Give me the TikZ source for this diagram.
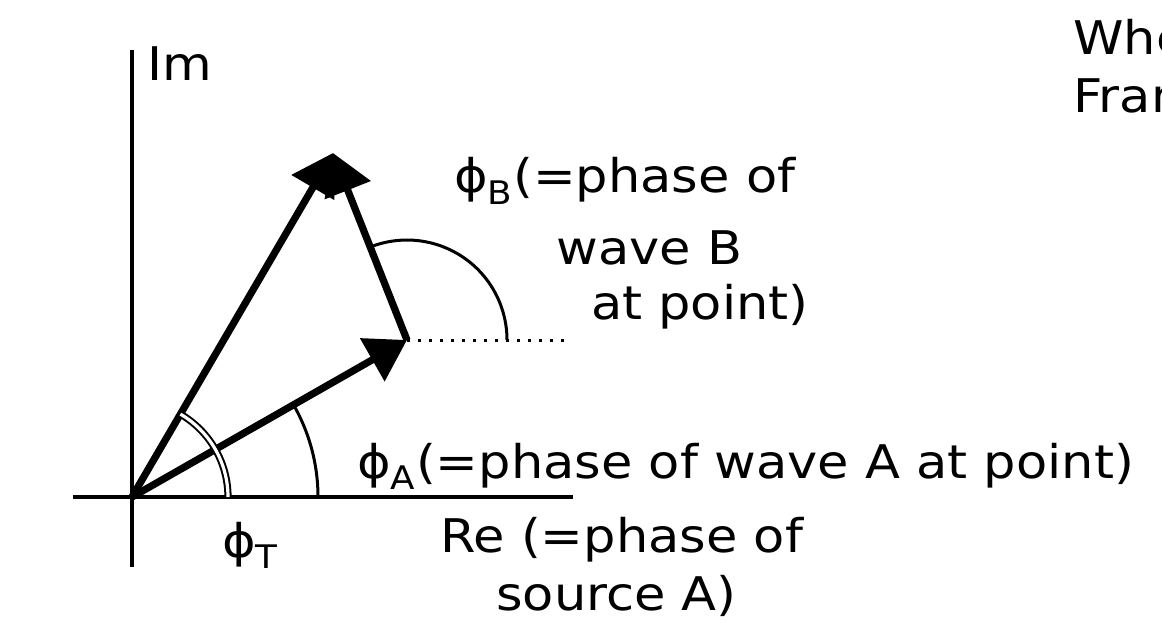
\documentclass[tikz,border=0pt]{standalone}
\usepackage{fontspec}
\setmainfont[FakeStretch=1.1]{DejaVu Sans}
\usetikzlibrary{arrows.meta, positioning, calc}

\begin{document}
\begin{tikzpicture}[
  axis/.style={line width=0.09cm},
  phasor/.style={line width=0.18cm, -{Triangle[length=1cm, width=1.2cm]}},
  anglearc/.style={line width=0.075cm},
  lbl/.style={font=\fontsize{33pt}{38.5pt}\selectfont, inner sep=0pt}
]
  \useasboundingbox (-3.3,-3.125) rectangle (25.75,12.425);

  % Axes
  \coordinate (O) at (0,0);
  \coordinate (reL) at (-1.475,0);
  \coordinate (reR) at (11.025,0);
  \coordinate (imT) at (0,11.175);
  \coordinate (imB) at (0,-1.75);
  \draw[axis] (reL) -- (reR);
  \draw[axis] (imB) -- (imT);
  \node[lbl, anchor=base west] (im) at (0.375,10.4) {Im};

  % Phasors
  \coordinate (A) at (6.875,3.925);
  \coordinate (R) at (5.025,8.6);
  \coordinate (dotEnd) at (10.825,3.925);
  \draw[phasor] (O) -- (A);
  \draw[phasor] (A) -- (R);
  \draw[phasor] (O) -- (R);

  % Angles
  \draw[anglearc] ($(O)+(4.65,0)$) arc[start angle=0, end angle=29.7, radius=4.65];
  \draw[line width=0.05cm, double, double distance=0.08cm] ($(O)+(2.4,0)$) arc[start angle=0, end angle=59.7, radius=2.4];
  \draw[anglearc] ($(A)+(2.5,0)$) arc[start angle=0, end angle=111.6, radius=2.5];
  \draw[line width=0.075cm, dash pattern=on 0.075cm off 0.2cm] (A) -- (dotEnd);

  % Labels
  \node[lbl, anchor=base west] (phiA) at (5.625,0.475) {ϕ\textsubscript{A}(=phase of wave A at point)};
  \node[lbl, anchor=base west] (phiT) at (2.25,-1.5) {ϕ\textsubscript{T}};
  \node[lbl, align=left, anchor=north west] (phiB) at (8.05,8.5) {ϕ\textsubscript{B}(=phase of\\[13pt]\hspace{2.55cm}wave B\\\hspace{3.42cm}at point)};
  \node[lbl, align=left, anchor=north west] (re) at (7.7,-0.5) {Re (=phase of\\[3pt]\hspace{1.4cm}source A)};
  \node[lbl, align=left, anchor=north west] (where) at (23.525,11.95) {Whe\\[3pt]Fran};
\end{tikzpicture}
\end{document}
